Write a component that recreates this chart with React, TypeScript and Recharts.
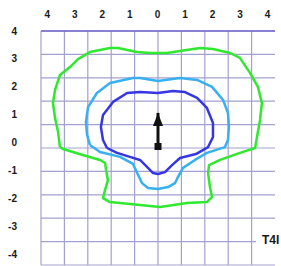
import React from 'react';
import { ComposedChart, Line, XAxis, YAxis, CartesianGrid, ReferenceLine } from 'recharts';

// Outer (green) field boundary, in grid units (10 per square), centre = 0,0
const greenPts: [number, number][] = [
  [-41.9, 0.4], [-40.6, -0.4], [-32.1, -3.0], [-24.8, -5.1], [-22.6, -6.4], [-22.2, -9.4],
  [-21.4, -13.7], [-22.6, -17.9], [-23.5, -21.4], [-20.5, -23.1], [-7.7, -24.4], [0.9, -25.2],
  [12.4, -23.5], [20.9, -23.1], [23.1, -20.9], [22.2, -16.7], [21.4, -10.7], [21.8, -7.3],
  [26.5, -5.1], [35.0, -2.1], [41.5, 0], [42.3, 4.7], [43.6, 12.0], [44.4, 19.2], [42.7, 26.1],
  [39.3, 32.1], [35.0, 38.5], [30.8, 40.6], [23.5, 42.3], [18.0, 42.7], [9.4, 41.5], [3.8, 40.6],
  [-3.4, 40.6], [-9.0, 41.0], [-17.1, 42.7], [-20.5, 42.7], [-29.1, 41.0], [-34.2, 38.0],
  [-37.6, 34.6], [-41.9, 31.2], [-44.0, 24.8], [-44.9, 19.2], [-44.0, 12.8], [-42.7, 6.8],
];

// Middle (light blue) boundary
const lightBluePts: [number, number][] = [
  [-29.1, 1.3], [-24.8, -1.7], [-16.2, -3.8], [-10.7, -6.8], [-8.5, -11.5], [-6.8, -15.0],
  [-4.3, -17.1], [0, -17.5], [4.3, -16.7], [7.3, -15.0], [8.5, -12.4], [10.7, -8.5],
  [15.8, -5.1], [20.9, -2.1], [28.6, 0.4], [29.9, 3.4], [30.3, 9.0], [29.9, 15.0], [27.8, 20.5],
  [23.1, 26.1], [16.7, 29.1], [9.4, 29.9], [0, 28.6], [-7.7, 29.9], [-10.7, 29.9], [-20.5, 27.8],
  [-26.1, 23.5], [-29.9, 17.5], [-30.8, 11.1], [-30.3, 5.6],
];

// Inner (dark blue) boundary
const darkBluePts: [number, number][] = [
  [-21.8, 0], [-17.5, -2.1], [-12.0, -3.8], [-7.7, -5.1], [-4.7, -8.1], [-2.1, -10.7],
  [0, -11.1], [3.0, -10.3], [6.0, -7.3], [9.4, -4.3], [16.2, -2.6], [21.4, 0.4], [23.5, 4.7],
  [23.5, 10.7], [20.9, 17.1], [16.7, 21.4], [11.5, 23.9], [6.4, 24.4], [0, 23.5], [-7.7, 23.9],
  [-13.2, 23.5], [-19.2, 19.7], [-23.5, 14.1], [-24.4, 9.0], [-23.5, 3.4],
];

// Arrow: base and tip
const arrowPts: [number, number][] = [[0, 0], [0, 15]];

const gridDomain: [number, number] = [-50, 50];
const gridXTicks = [-50, -40, -30, -20, -10, 0, 10, 20, 30, 40];
const gridYTicks = [-50, -40, -30, -20, -10, 0, 10, 20, 30, 40, 50];

const topTickValues = [-4, -3, -2, -1, 0, 1, 2, 3, 4];
const topTickLabels = ['4', '3', '2', '1', '0', '1', '2', '3', '4'];
const leftTickValues = [4, 3, 2, 1, 0, -1, -2, -3, -4];
const leftTickLabels = ['4', '3', '2', '1', '0', '-1', '-2', '-3', '-4'];

const cornerLabel = 'T4I';

const toData = (pts: [number, number][], close: boolean) => {
  const d = pts.map(([x, y]) => ({ x, y }));
  if (close) d.push({ x: pts[0][0], y: pts[0][1] });
  return d;
};

const ArrowDot = (props: any) => {
  const { cx, cy, index } = props;
  if (cx == null || cy == null) return null;
  if (index === 0) {
    return <rect key="ab" x={cx - 3.5} y={cy - 5} width={7} height={7} fill="#111" />;
  }
  return (
    <path key="ah" d={`M${cx},${cy} L${cx - 5},${cy + 13} L${cx + 5},${cy + 13} Z`} fill="#111" />
  );
};

const FONT = '"Liberation Sans", Arial, sans-serif';

const vGen = ({ offset }: any) =>
  gridXTicks.map(
    (t) => offset.left + ((t - gridDomain[0]) / (gridDomain[1] - gridDomain[0])) * offset.width
  );
const hGen = ({ offset }: any) =>
  gridYTicks.map(
    (t) => offset.top + ((gridDomain[1] - t) / (gridDomain[1] - gridDomain[0])) * offset.height
  );

export default function App() {
  return (
    <div
      style={{
        position: 'fixed',
        left: 0,
        top: 0,
        width: 281,
        height: 266,
        overflow: 'hidden',
        background: '#fff',
      }}
    >
      <ComposedChart
        width={281}
        height={266}
        margin={{ top: 0, right: 6, bottom: 1, left: 0 }}
      >
        <XAxis
          xAxisId="g"
          orientation="bottom"
          dataKey="x"
          type="number"
          domain={gridDomain}
          ticks={gridXTicks}
          hide
          allowDataOverflow
        />
        <YAxis
          yAxisId="g"
          orientation="right"
          dataKey="y"
          type="number"
          domain={gridDomain}
          ticks={gridYTicks}
          hide
          allowDataOverflow
        />
        <XAxis
          xAxisId="t"
          orientation="top"
          dataKey="tv"
          type="number"
          domain={[-4.23, 4.273]}
          ticks={topTickValues}
          allowDataOverflow
          height={31}
          axisLine={false}
          tickLine={false}
          tickSize={0}
          tickMargin={13.5}
          interval={0}
          tickFormatter={(v: number) => topTickLabels[topTickValues.indexOf(v)] ?? ''}
          tick={{ fill: '#1a1a1a', fontSize: 10, fontWeight: 700, fontFamily: FONT }}
        />
        <YAxis
          yAxisId="l"
          orientation="left"
          dataKey="lv"
          type="number"
          domain={[-4.394, 4.0]}
          ticks={leftTickValues}
          allowDataOverflow
          width={41}
          axisLine={false}
          tickLine={false}
          tickSize={0}
          tickMargin={24}
          interval={0}
          tickFormatter={(v: number) => leftTickLabels[leftTickValues.indexOf(v)] ?? ''}
          tick={{ fill: '#1a1a1a', fontSize: 10, fontWeight: 700, fontFamily: FONT }}
        />
        <CartesianGrid
          xAxisId="g"
          yAxisId="g"
          stroke="#a3a1cf"
          strokeWidth={1.2}
          fill="#fff"
          verticalCoordinatesGenerator={vGen}
          horizontalCoordinatesGenerator={hGen}
        />
        <ReferenceLine xAxisId="g" yAxisId="g" y={50} stroke="#6f66c8" strokeWidth={1.5} />
        <Line
          xAxisId="g"
          yAxisId="g"
          data={toData(greenPts, true)}
          dataKey="y"
          type="linear"
          stroke="#2fe82f"
          strokeWidth={2.5}
          strokeLinejoin="round"
          dot={false}
          activeDot={false}
          isAnimationActive={false}
        />
        <Line
          xAxisId="g"
          yAxisId="g"
          data={toData(lightBluePts, true)}
          dataKey="y"
          type="linear"
          stroke="#38aff0"
          strokeWidth={2.5}
          strokeLinejoin="round"
          dot={false}
          activeDot={false}
          isAnimationActive={false}
        />
        <Line
          xAxisId="g"
          yAxisId="g"
          data={toData(darkBluePts, true)}
          dataKey="y"
          type="linear"
          stroke="#3636e2"
          strokeWidth={2.5}
          strokeLinejoin="round"
          dot={false}
          activeDot={false}
          isAnimationActive={false}
        />
        <Line
          xAxisId="g"
          yAxisId="g"
          data={toData(arrowPts, false)}
          dataKey="y"
          type="linear"
          stroke="#111"
          strokeWidth={3}
          dot={<ArrowDot />}
          activeDot={false}
          isAnimationActive={false}
        />
      </ComposedChart>
      <div
        style={{
          position: 'absolute',
          left: 256,
          top: 233,
          paddingLeft: 6,
          paddingRight: 4,
          background: '#fff',
          fontFamily: FONT,
          fontWeight: 700,
          fontSize: 12,
          lineHeight: '15px',
          color: '#1a1a1a',
          whiteSpace: 'nowrap',
        }}
      >
        {cornerLabel}
      </div>
    </div>
  );
}
